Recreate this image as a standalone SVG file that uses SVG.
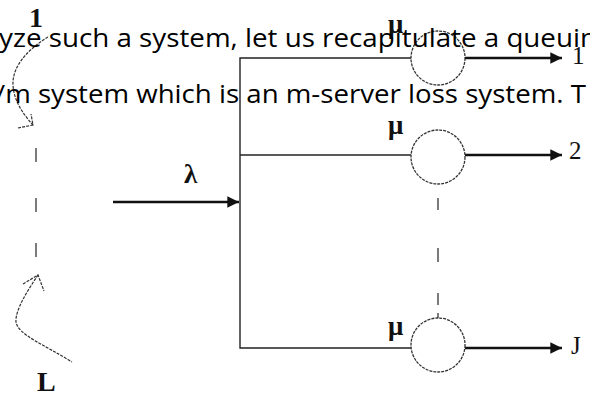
<svg xmlns="http://www.w3.org/2000/svg" width="590" height="395" viewBox="0 0 590 395">
  <defs>
    <style>
      .bus { fill: none; stroke: #222; stroke-width: 1.4; }
      .out { fill: none; stroke: #111; stroke-width: 2.6; }
      .srv { fill: #fff; stroke: #333; stroke-width: 1.3; stroke-dasharray: 3 1; }
      .dash { fill: none; stroke: #333; stroke-width: 1.3; }
      .hand { fill: none; stroke: #333; stroke-width: 1.2; stroke-dasharray: 3 1.2; }
      .mu { font-family: "Liberation Serif", serif; font-size: 27px; font-weight: bold; fill: #111; }
      .lbl { font-family: "Liberation Serif", serif; fill: #111; }
      .out-lbl { font-family: "Liberation Serif", serif; font-size: 25px; fill: #111; }
      .body { font-family: "Open Sans", "Liberation Sans", sans-serif; font-size: 26px; fill: #000; }
    </style>
    <marker id="ah" viewBox="0 0 10 10" refX="10" refY="5" markerWidth="5.5" markerHeight="4.5" markerUnits="strokeWidth" orient="auto">
      <path d="M0,0 L10,5 L0,10 Z" fill="#111"/>
    </marker>
  </defs>

  <g id="connectors">
    <path class="bus" d="M411,58 H240 V348 H411"/>
    <path class="bus" d="M240,155 H411"/>
    <line class="out" x1="113" y1="202" x2="239" y2="202" stroke-width="3" marker-end="url(#ah)"/>
    <line class="out" x1="465" y1="58" x2="562" y2="58" marker-end="url(#ah)"/>
    <line class="out" x1="465" y1="155" x2="562" y2="155" marker-end="url(#ah)"/>
    <line class="out" x1="465" y1="348" x2="562" y2="348" marker-end="url(#ah)"/>
    <g id="server-ellipsis">
      <line class="dash" x1="438" y1="198" x2="438" y2="210"/>
      <line class="dash" x1="438" y1="248" x2="438" y2="262"/>
      <line class="dash" x1="438" y1="293" x2="438" y2="305"/>
      <line class="dash" x1="438" y1="313" x2="438" y2="318"/>
    </g>
  </g>

  <g id="source-column">
    <text class="lbl" x="29" y="27" font-size="28" font-weight="bold">1</text>
    <path class="hand" d="M48,37 C30,48 12,65 13,85 C14,102 24,115 33,125"/>
    <path class="hand" d="M18,128 L33,125 L31,114" stroke-dasharray="none"/>
    <line class="dash" x1="36" y1="148" x2="36" y2="162"/>
    <line class="dash" x1="36" y1="198" x2="36" y2="212"/>
    <line class="dash" x1="36" y1="243" x2="36" y2="257"/>
    <path class="hand" d="M38,275 C28,290 15,310 16,322 C18,335 45,345 72,362"/>
    <path class="hand" d="M23,284 L38,275 L44,291" stroke-dasharray="none"/>
    <text class="lbl" x="37" y="391" font-size="28" font-weight="bold">L</text>
  </g>

  <g id="arrival">
    <text class="lbl" x="184" y="183" font-size="27" font-weight="bold">λ</text>
  </g>

  <g id="server-1">
    <circle class="srv" cx="438" cy="58" r="27"/>
    <text class="mu" x="388" y="33">μ</text>
    <text class="out-lbl" x="572" y="64">1</text>
  </g>
  <g id="server-2">
    <circle class="srv" cx="438" cy="157" r="27"/>
    <text class="mu" x="388" y="134">μ</text>
    <text class="out-lbl" x="569" y="159">2</text>
  </g>
  <g id="server-J">
    <circle class="srv" cx="438" cy="345" r="27"/>
    <text class="mu" x="388" y="335">μ</text>
    <text class="out-lbl" x="571" y="354">J</text>
  </g>

  <g id="page-text">
    <text class="body" x="-1" y="47" textLength="598" lengthAdjust="spacingAndGlyphs">yze such a system, let us recapitulate a queuin</text>
    <text class="body" x="-5" y="103" textLength="591" lengthAdjust="spacingAndGlyphs">/m system which is an m-server loss system. T</text>
  </g>
</svg>
